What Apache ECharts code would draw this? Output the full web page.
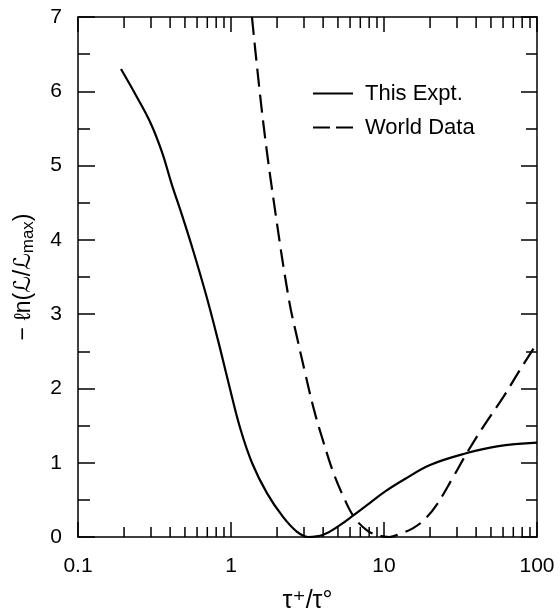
<!DOCTYPE html>
<html>
<head>
<meta charset="utf-8">
<script src="https://cdn.jsdelivr.net/npm/echarts@6/dist/echarts.min.js"></script>
<style>
html,body{margin:0;padding:0;background:#fff;}
#chart{width:560px;height:613px;}
</style>
</head>
<body>
<div id="chart"></div>
<script>
// Data
const thisExpt = [
  [0.191, 6.30], [0.243, 5.92], [0.300, 5.56], [0.354, 5.18], [0.411, 4.74],
  [0.479, 4.33], [0.565, 3.86], [0.687, 3.26], [0.822, 2.65], [0.970, 2.05],
  [1.146, 1.47], [1.371, 1.00], [1.718, 0.59], [2.188, 0.27], [2.70, 0.07],
  [3.19, 0.0], [4.01, 0.03], [5.15, 0.16], [6.3, 0.29], [8.1, 0.46],
  [10.3, 0.62], [13.7, 0.78], [20.0, 0.97], [34.8, 1.13], [54.8, 1.22], [100, 1.27]
];
const worldData = [
  [1.371, 7.0], [1.618, 5.61], [1.953, 4.36], [2.394, 3.19], [2.70, 2.69],
  [3.05, 2.21], [3.49, 1.71], [4.03, 1.27], [4.68, 0.86], [5.44, 0.54],
  [6.37, 0.27], [7.74, 0.09], [9.27, 0.02], [10.8, 0.0], [13.0, 0.05],
  [15.5, 0.12], [18.5, 0.24], [22.2, 0.44], [28.2, 0.80], [34.8, 1.13],
  [44.4, 1.48], [60.0, 1.88], [77.4, 2.25], [100, 2.61]
];
const xTickValues = [0.1, 1, 10, 100];
const xTickLabels = ['0.1', '1', '10', '100'];
const xMinorTicks = [0.2,0.3,0.4,0.5,0.6,0.7,0.8,0.9, 2,3,4,5,6,7,8,9, 20,30,40,50,60,70,80,90];
const seriesNames = ['This Expt.', 'World Data'];

const FONT = '"Liberation Sans", "DejaVu Sans", sans-serif';
const chart = echarts.init(document.getElementById('chart'), null, {renderer: 'canvas'});

const axisLineStyle = {color: '#000', width: 1.5};

function xAxisBase(pos, showLabel) {
  return {
    type: 'log', logBase: 10, min: 0.1, max: 100, position: pos,
    axisLine: {show: true, onZero: false, lineStyle: axisLineStyle},
    axisTick: {show: true, inside: true, length: 15, lineStyle: {color: '#000', width: 1.5}},
    splitLine: {show: false},
    minorTick: {show: false},
    axisLabel: {
      show: showLabel, color: '#000', fontFamily: FONT, fontSize: 21, margin: 19,
      formatter: function (v) {
        for (let i = 0; i < xTickValues.length; i++) {
          if (Math.abs(v - xTickValues[i]) / xTickValues[i] < 1e-6) return xTickLabels[i];
        }
        return '';
      }
    }
  };
}
function yAxisBase(pos, showLabel, majLen, minLen) {
  return {
    type: 'value', min: 0, max: 7, interval: 1, position: pos,
    axisLine: {show: true, lineStyle: axisLineStyle},
    axisTick: {show: true, inside: true, length: majLen, lineStyle: {color: '#000', width: 1.5}},
    minorTick: {show: true, splitNumber: 2, length: minLen, lineStyle: {color: '#000', width: 1.5}},
    splitLine: {show: false},
    axisLabel: {show: showLabel, color: '#000', fontFamily: FONT, fontSize: 21, margin: 16}
  };
}

const xBottom = xAxisBase('bottom', true);
xBottom.name = 'τ⁺/τ°';
xBottom.nameLocation = 'middle';
xBottom.nameGap = 52;
xBottom.nameTextStyle = {color: '#000', fontFamily: FONT, fontSize: 25};

const yLeft = yAxisBase('left', true, 17, 12);
yLeft.name = '{a|− ℓn(ℒ/ℒ}{s|max}{a|)}';
yLeft.nameLocation = 'middle';
yLeft.nameRotate = 90;
yLeft.nameGap = 41;
yLeft.nameTextStyle = {
  color: '#000', fontFamily: FONT, fontSize: 23,
  rich: {
    a: {fontFamily: FONT, fontSize: 23, color: '#000'},
    s: {fontFamily: FONT, fontSize: 17, color: '#000', padding: [9, 0, 0, 0]}
  }
};

const option = {
  backgroundColor: '#fff',
  animation: false,
  grid: {left: 78, right: 23, top: 17, bottom: 76, containLabel: false, outerBoundsMode: 'none'},
  legend: {
    data: [
      {name: seriesNames[0], icon: 'path://M0,0H40V2H0Z'},
      {name: seriesNames[1], icon: 'path://M0,0H17V2H0Z M23,0H40V2H23Z'}
    ],
    orient: 'vertical',
    left: 308, top: 76,
    itemWidth: 40, itemHeight: 2, itemGap: 9,
    itemStyle: {color: '#000', borderWidth: 0},
    textStyle: {color: '#000', fontFamily: FONT, fontSize: 22, padding: [0, 0, 0, 7], lineHeight: 25},
    selectedMode: false
  },
  xAxis: [xBottom, xAxisBase('top', false)],
  yAxis: [yLeft, yAxisBase('right', false, 16, 11)],
  series: [
    {
      name: seriesNames[0], type: 'line', data: thisExpt, xAxisIndex: 0, yAxisIndex: 0,
      symbol: 'none', smooth: 0.4, clip: true,
      lineStyle: {color: '#000', width: 2.2, type: 'solid'},
      itemStyle: {color: '#000'}
    },
    {
      name: seriesNames[1], type: 'line', data: worldData, xAxisIndex: 0, yAxisIndex: 0,
      symbol: 'none', smooth: 0.4, clip: true,
      lineStyle: {color: '#000', width: 2.2, type: [18, 8]},
      itemStyle: {color: '#000'}
    },
    {
      type: 'custom', xAxisIndex: 0, yAxisIndex: 0, silent: true, clip: false,
      data: xMinorTicks.map(function (v) { return [v, 0]; }),
      renderItem: function (params, api) {
        const v = api.value(0);
        const b = api.coord([v, 0]);
        const t = api.coord([v, 7]);
        return {
          type: 'group',
          children: [
            {type: 'line', shape: {x1: b[0], y1: b[1], x2: b[0], y2: b[1] - 10}, style: {stroke: '#000', lineWidth: 1.5}},
            {type: 'line', shape: {x1: t[0], y1: t[1], x2: t[0], y2: t[1] + 11}, style: {stroke: '#000', lineWidth: 1.5}}
          ]
        };
      }
    }
  ]
};
chart.setOption(option);
</script>
</body>
</html>
